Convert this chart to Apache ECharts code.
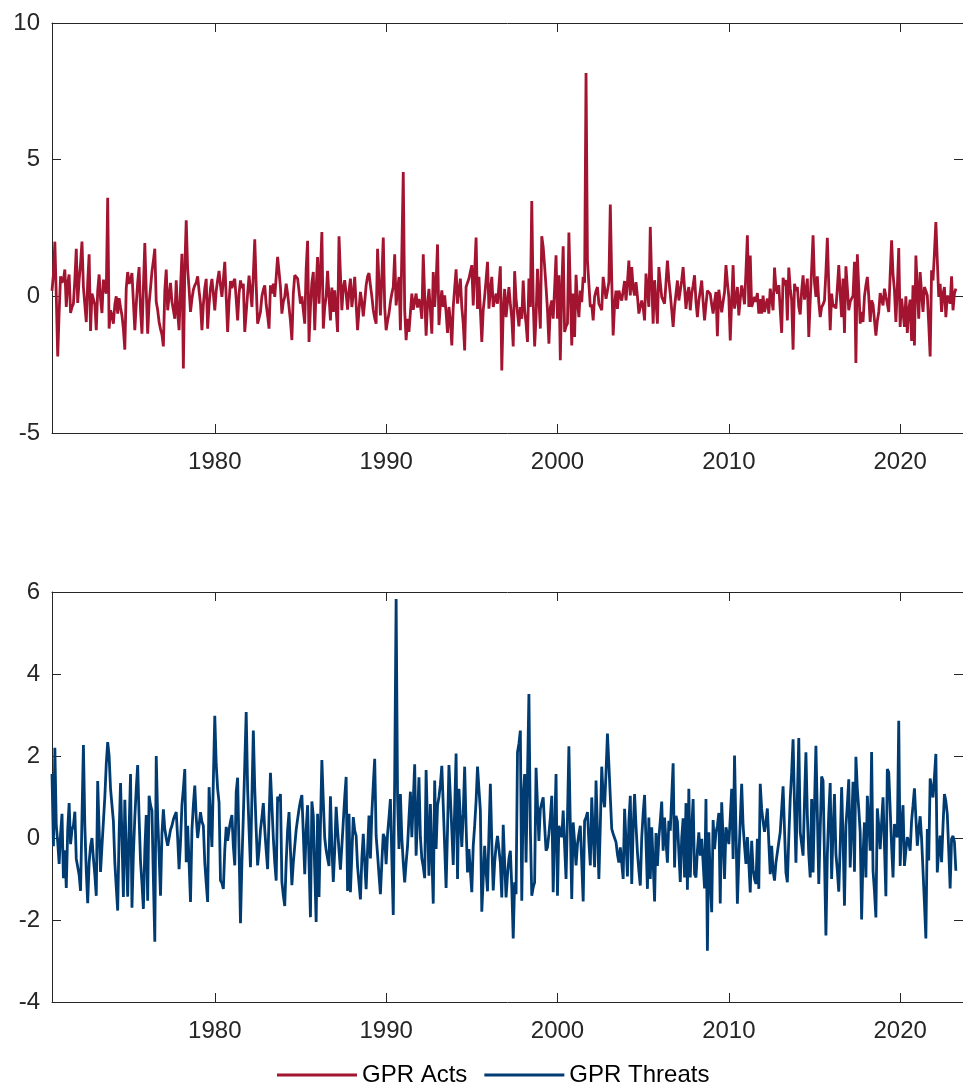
<!DOCTYPE html>
<html>
<head>
<meta charset="utf-8">
<title>GPR Acts / GPR Threats</title>
<script src="https://cdn.jsdelivr.net/npm/echarts@6/dist/echarts.min.js"></script>
<style>
  html, body { margin: 0; padding: 0; background: #fff; }
  #chart { width: 963px; height: 1088px; }
</style>
</head>
<body>
<div id="chart"></div>
<script>
// monthly values, one row per year (1970 starts in July, 2023 ends in April)
var gprActs = [
  0.2, 0.8, 2.0, 0.0, -2.2, -0.6,
  0.73, 0.5, 0.6, 0.98, -0.39, 0.5, 0.8, -0.61, -0.4, -0.27, 0.6, 1.74,
  -0.24, 0.6, 1.2, 2.0, 0.34, -0.3, -0.94, 0.5, 1.54, -1.27, 0.1, 0.1,
  -0.3, -1.24, 0.2, 0.8, -0.1, -0.61, 0.61, 0.3, 0.1, 3.61, -1.18, -0.51,
  -0.7, -1.0, -0.3, 0, -0.63, -0.07, -0.4, -0.7, -1.2, -1.95, 0.3, 0.89,
  0.46, 0.6, 0.85, -0.2, -1.24, -0.3, 0.5, 1.07, -0.5, -1.37, 0.3, 1.95,
  0.2, -1.37, -0.27, 0.3, 0.9, 1.3, 1.74, -0.2, -0.5, -0.94, -1.2, -1.4,
  -1.83, 0.2, 0.98, -0.51, 0, 0.49, -0.2, -0.5, -0.82, 0.59, -0.6, -1.24,
  0.3, 1.56, -2.64, 1.0, 2.78, 1.0, 0.27, -0.57, -0.1, 0.24, 0.4, 0.5,
  0.73, 0.2, -0.27, -1.24, -0.3, 0.3, 0.64, -1.18, -0.3, 0.3, 0.64, 0.1,
  -0.51, 0.2, 0.6, 0.93, 0.4, -0.02, 0.6, 1.26, 1.26, -1.3, -0.2, 0.56,
  0.3, 0.52, 0.64, -0.1, -0.88, 0.1, 0.58, 0.3, 0.46, -1.3, -0.61, 0.1,
  0.76, 0.2, -0.39, 0.8, 2.09, 0.4, -1.0, -0.8, -0.57, 0.0, 0.24, 0.4,
  -0.3, -0.7, -1.18, 0.4, 0.1, 0.46, -0.02, 0.7, 1.44, 0.9, 0.34, -0.63,
  -0.2, -0.02, 0.46, 0.1, -0.39, -0.9, -1.6, 0.1, 0.77, 0.7, 0.65, 0.2,
  -0.27, 0, -0.5, -1.0, 1.0, 2.03, -1.67, -0.4, 0.5, 0.89, -1.24, 0.3,
  1.44, -0.27, 0.9, 2.35, -1.18, -0.4, 0, 0.93, 0, -0.88, 0.32, -0.57,
  0.22, -0.5, -1.3, 2.2, 0.8, -0.51, 0.34, 0.59, 0.1, -0.49, 0.2, 0.65,
  -0.39, 0.1, 0.71, -0.3, -1.24, -0.5, 0.16, -0.2, -0.73, -0.2, 0.4, 0.73,
  0.85, 0.4, 0, -0.5, -0.8, -1.0, 1.74, 0.5, -0.7, 0.7, 2.15, -0.4,
  -1.24, -0.9, -0.63, -0.2, 0.1, 0.34, 1.54, -0.33, 0.2, 0.71, -1.24, 1.6,
  4.55, -0.5, -1.6, -0.82, -1.3, -0.6, 0.1, -0.49, -0.2, 0.1, -0.41, -0.1,
  -0.32, -0.82, 1.54, 0.0, -1.44, -0.27, 0.27, -0.5, -1.37, 0.89, -0.39, 0.5,
  1.9, -1.05, -0.3, 0.22, -0.39, 0.04, -0.6, -1.34, -0.39, -0.9, -1.8, -0.39,
  0.3, 0.99, -0.27, 0.2, 0.65, -0.39, -1.0, -1.98, 0.34, 0.5, 0.65, 0.9,
  1.14, -0.33, 0.9, 2.15, -0.46, 0.71, -0.5, -1.67, -0.5, 0, 0.6, 1.26,
  -0.45, 0.2, 0.71, -0.39, -0.39, 0.1, -0.27, 0.4, 1.1, -2.71, -0.5, 0.27,
  -0.76, -0.2, 0.34, -0.27, -0.8, -1.83, 0.92, -0.1, -0.6, -1.1, -0.39, -0.82,
  0.58, -0.5, -1.0, -1.67, 0.65, -0.39, 3.49, -0.2, -1.83, -0.76, 1.01, -0.1,
  -1.18, 2.2, 1.8, 1.1, 0.34, -0.5, -1.73, -0.4, -0.15, -0.82, 0.3, 1.5,
  -0.82, 0.77, -2.34, 0.3, 1.83, -1.3, -1.1, -0.99, 2.33, 0.2, -1.8, 0.1,
  -1.49, 0.79, -0.2, -0.76, 0.21, -0.21, 0.71, 0.5, 8.17, 1.3, 1.25, -0.39,
  -0.3, -0.88, -0.02, 0.2, 0.34, -0.27, -0.2, -0.51, 0.71, 0.3, -0.09, 0.2,
  0.52, 3.36, 0.6, -1.43, -0.3, 0.21, -0.46, 0.21, 0.0, -0.15, 0.2, 0.56,
  -0.15, 0.5, 1.31, 0.03, 1.07, 0.3, 0.03, 0.52, 0.0, -0.63, -0.57, -0.15,
  -0.4, -0.88, 0.83, 0.2, -0.39, 2.54, 0.5, -1.0, 0.59, -0.2, -1.0, 1.07,
  0.5, -0.02, -0.02, -0.27, 0.5, 1.31, 0.6, 0.09, -0.5, -1.12, -0.39, 0.1,
  0.58, -0.15, 0.2, 0.58, 1.07, 0.3, -0.46, 0.1, 0.34, -0.51, 0.09, 0.4,
  0.77, -0.2, -0.76, -0.15, 0.2, 0.58, -0.2, -0.88, -0.3, 0.21, 0.15, 0.09,
  -0.3, -0.63, -0.2, 0.16, -1.46, 0.24, -0.2, -0.58, -0.2, 0.16, 1.14, 0.5,
  -0.02, -1.61, -0.2, 1.14, -0.45, -0.1, 0.34, -0.7, -0.1, 0.4, 0.1, -0.29,
  0.9, 2.23, -0.39, 1.49, -0.39, -0.2, -0.02, -0.2, 0.12, -0.63, -0.1, -0.63,
  0.03, -0.57, -0.3, -0.08, -0.63, 0.28, -0.1, -0.51, 1.05, 0.3, 0.1, 0.41,
  -0.5, -1.34, 0.68, 0.4, 0.6, -0.88, 1.05, 0.3, -0.15, -1.95, 0.46, 0.2,
  0.34, -0.39, -0.66, 0.2, 0.77, -0.12, 0.2, 0.65, -1.49, -0.15, 1.0, 2.23,
  0.5, -0.02, 0.73, -0.2, -0.76, -0.39, -0.3, -0.15, 0.9, 2.14, 0.4, -1.24,
  0.1, -0.39, -0.3, -0.45, 0.3, 1.14, 0.1, -0.76, 0.65, -1.34, 1.1, 0.3,
  -0.51, -0.2, -0.08, 0.03, 1.26, -2.44, 1.54, 0.3, -1.0, -0.57, -0.94, 0.0,
  0.4, 0.71, 0.0, -0.94, -0.15, -0.3, -0.27, -1.44, -0.9, -0.57, 0.12, -0.1,
  -0.33, 0.28, 0.0, -0.27, -0.57, 0.8, 2.05, 0.8, 0.22, -0.94, 0.3, 1.77,
  -1.12, -0.08, -0.6, -1.12, 0.0, -1.34, -0.5, -0.12, -1.63, 0.4, -1.8, 1.49,
  0.3, -0.82, 0.89, 0.1, -0.57, 0.34, 0.2, 0.03, -1.0, -2.2, 0.95, 0.58,
  1.6, 2.72, 1.32, -0.02, 0.46, -0.57, 0.1, 0.34, -0.76, 0.03, -0.1, -0.27,
  0.73, -0.51, 0.1, 0.28
];

var gprThreats = [
  1.56, -0.2, 2.2, 0.3, -0.1, -0.63,
  0.1, 0.59, -0.98, -0.3, -1.22, 0.2, 0.85, -0.15, 0.2, 0.3, 0.64, -0.51,
  -0.7, -0.9, -1.29, 0.5, 2.27, 0.3, -0.8, -1.59, -0.6, -0.2, 0, -0.5,
  -0.9, -1.41, 1.39, 0.2, -0.83, -0.2, 0.4, 1.0, 1.8, 2.34, 2.0, 1.2,
  0.8, 0.41, -0.6, -1.2, -1.77, 0.1, 1.34, 0.0, -1.44, 0.93, -0.3, -1.43,
  0.2, 1.56, -1.7, -0.4, 0.5, 1.2, 1.78, 0.5, -0.58, -1.1, -1.73, -0.3,
  0.56, -1.53, 1.03, 0.8, 0.67, -1.0, -2.53, 2.0, 0.5, -0.4, -1.41, 0.1,
  0.7, 0.22, 0.0, -0.19, 0.0, 0.2, 0.3, 0.45, 0.55, 0.63, 0.0, -0.76,
  -0.1, 0.8, 1.2, 1.68, -0.59, 0.3, -0.6, -1.56, 0.2, 0.8, 1.28, 0.5,
  0, 0.3, 0.63, 0.4, 0.3, -0.6, -1.1, -1.56, 1.24, 0.5, -0.22, 1.4,
  2.98, 1.8, 1.2, 0.87, -1.04, -1.1, -1.24, -0.3, 0.27, -0.07, 0.2, 0.4,
  0.56, -0.2, -0.67, 1.12, 1.47, -0.3, -2.08, -0.6, 0.54, 1.8, 3.07, 1.2,
  0.2, -0.71, 1.0, 2.62, 1.2, 0.2, -0.67, -0.3, 0.2, 0.5, 0.85, 0.2,
  -0.3, -0.76, 0.5, 1.59, 0.8, 0.0, -0.6, -1.04, 1.01, 0.9, 1.07, -1.07,
  -1.4, -1.66, -0.6, 0.2, 0.63, -0.3, -1.15, -0.6, -0.2, 0.2, 0.46, 0.7,
  0.9, 1.05, 0.1, -0.88, 0.2, 0.8, -0.6, -1.93, 0.89, 0.54, -0.8, -2.05,
  0.59, -1.44, 0.3, 1.9, 0.9, 0, -0.3, -0.5, -0.68, 1.02, -0.2, -1.07,
  -0.3, 0.76, 0.2, -0.3, -0.77, -0.2, 0.4, 1.0, 1.49, -1.29, 0.59, -1.32,
  -0.4, 0.51, 0.18, 0.05, -0.7, -1.1, -1.5, -0.5, 0.1, -0.6, -1.25, -0.3,
  0.55, -0.5, 0.6, 1.3, 1.93, 0.05, -0.4, -0.9, -1.37, -0.6, 0.1, 0.0,
  -0.64, 0.1, 0.5, 0.95, -0.5, -1.88, 1.5, 5.83, 1.0, -0.27, 1.07, 0.0,
  -0.6, -1.08, -0.6, -0.2, 0.5, 1.13, 0.02, 0.9, 1.8, -0.43, 0.5, 1.48,
  0.02, -0.5, -0.7, -0.98, 1.66, 0.3, -0.92, 0.83, -0.4, -1.6, 1.4, -0.27,
  0.79, 1.0, 1.3, 1.76, 0.8, -0.2, -1.22, 0.2, 1.78, 1.0, 0.2, -0.66,
  0.7, 2.06, -1.0, 1.2, 0.46, -0.22, 0.6, 1.74, 0.3, -0.84, -0.27, -0.8,
  -1.32, -0.19, 0.3, 0.9, 1.74, 1.2, 0.67, -1.8, -1.0, -0.19, -0.8, -1.3,
  0.1, 1.32, -0.1, -1.28, -0.6, -0.2, 0.05, 0.02, -0.6, -1.45, 0.32, -0.6,
  -1.45, -0.9, -0.5, -0.31, -1.2, -2.45, -1.08, -1.37, 2.09, 2.3, 2.62, -1.53,
  1.0, 1.56, -0.6, 1.5, 3.51, 0.22, -1.41, -1.2, -1.08, 1.71, 0.8, -0.07,
  0.71, 0.85, 0.99, 0.3, -0.31, -0.23, 0.1, 0.5, 1.03, -1.32, 0.2, 1.56,
  -1.41, 0.3, 0.15, 0.02, 0.67, -0.2, -1.0, 0.5, 2.24, 0.3, -1.49, 0.38,
  -0.1, -0.67, -0.15, 0.1, 0.3, -0.6, -1.55, 0.42, 0.5, 0.63, -0.1, -0.67,
  0.99, 0.1, -0.71, 1.4, 0.2, -1.0, 0.3, 1.74, 1.0, 0.75, 1.6, 2.55,
  1.8, 1.0, 0.22, 0.1, 0.0, -0.1, -0.4, -0.6, -0.23, -0.6, -1.0, 0.71,
  -0.1, -0.94, 0.4, 1.03, -1.12, 0.2, 1.07, 0.3, -0.35, -0.8, -1.16, 0.0,
  0.6, 1.05, -0.1, -1.24, 0.5, -1.0, 0.26, -0.6, -1.55, 0.12, -0.68, 0.0,
  0.42, 0.89, -0.31, 0.5, -0.1, -0.6, 0.42, 0.18, 1.0, 1.82, -0.72, 0.54,
  0.4, 0.4, -1.07, 0.0, 0.48, -0.96, 0.85, -1.26, 1.2, -0.96, 0.2, 0.95,
  -0.88, -0.96, -0.3, 0.14, -0.43, -0.02, -0.6, -1.23, 0.95, -2.75, 0.14, -1.0,
  -1.81, 0.44, -0.27, 0.14, 0.3, 0.61, -1.6, 0.87, 0.0, -1.0, 0.26, 0.1,
  -0.15, 0.5, 1.2, -0.51, 2.01, 0.2, -1.6, -0.51, 0.4, 1.32, 0.3, -0.2,
  -0.63, 0.02, -0.6, -1.33, -0.07, -0.76, -1.0, -1.12, -0.02, -1.24, 1.32, 0.71,
  0.4, 0.15, 0.4, 0.72, -0.1, -0.88, -0.19, -0.8, -1.04, -0.6, -0.35, -0.1,
  0.14, 0.7, 1.26, 0.2, -0.84, -1.08, 0.0, 0.95, 1.6, 2.41, 0.8, -0.6,
  1.0, 2.44, 0.14, 0.1, -0.43, 0.9, 2.09, 0.54, -0.4, -0.96, 0.95, -0.84,
  0.8, 2.25, 0.58, -1.12, 0.2, 1.5, 1.4, 1.36, -2.38, -0.4, 0.6, 1.34,
  -1.0, 0.2, 1.07, -0.39, -0.8, -1.31, -0.19, 1.24, 0.0, -1.65, 0.3, 0.8,
  1.43, -0.72, 0.3, 1.37, -0.82, 1.98, 1.2, 0.71, 0.14, -1.99, -0.4, 0.38,
  -0.96, 1.03, 0.4, -0.31, 2.1, -0.8, -1.3, -1.94, 0.72, 0.3, -0.27, 0.38,
  0.99, -0.2, -1.42, 1.68, 1.6, 1.64, -0.2, -0.96, 0.34, 0.1, 0.02, 2.86,
  -0.68, 0.3, 0.8, -0.68, -0.3, 0.02, -0.1, -0.31, 0.42, 0.8, 1.21, 0.5,
  -0.19, 0.2, 0.53, -0.02, -0.8, -1.6, -2.45, 0.22, -0.55, 1.45, 1.2, 0.99,
  1.5, 2.05, -0.84, -0.3, 0.06, -0.59, 0.3, 1.07, 0.9, 0.58, -0.3, -1.23,
  -0.02, 0.05, -0.1, -0.8
];

// axis runs a few months past the last observation (right edge is cut off)
var axisStart = [1970, 7];
var axisEnd = [2023, 9];
var yearTicks = [1980, 1990, 2000, 2010, 2020];

var seriesNames = ['GPR Acts', 'GPR Threats'];
var seriesColors = ['#A2142F', '#003C72'];

function buildMonths(start, end) {
    var out = [];
    var y = start[0], m = start[1];
    while (y < end[0] || (y === end[0] && m <= end[1])) {
        out.push(y + '-' + (m < 10 ? '0' + m : m));
        m++;
        if (m > 12) { m = 1; y++; }
    }
    return out;
}
var months = buildMonths(axisStart, axisEnd);

function isYearTick(index, value) {
    return value.slice(5) === '01' && yearTicks.indexOf(+value.slice(0, 4)) > -1;
}

var axisColor = '#262626';
var fontFamily = '"Liberation Sans", Arial, Helvetica, sans-serif';

var grids = [
    { left: 52, right: -7, top: 23, height: 410 },
    { left: 52, right: -7, top: 592, height: 410 }
];
var yRanges = [
    { min: -5, max: 10, interval: 5 },
    { min: -4, max: 6, interval: 2 }
];

function xAxisFor(gridIndex, onTop) {
    return {
        type: 'category',
        gridIndex: gridIndex,
        position: onTop ? 'top' : 'bottom',
        data: months,
        boundaryGap: false,
        axisLine: { show: true, onZero: false, lineStyle: { color: axisColor, width: 1 } },
        axisTick: { show: true, inside: true, length: 9, interval: isYearTick,
            lineStyle: { color: axisColor, width: 1 } },
        axisLabel: {
            show: !onTop,
            interval: isYearTick,
            formatter: function (v) { return v.slice(0, 4); },
            color: axisColor,
            fontSize: 24,
            fontFamily: fontFamily,
            margin: 17
        },
        splitLine: { show: false }
    };
}

function yAxisFor(gridIndex, onRight) {
    var r = yRanges[gridIndex];
    return {
        type: 'value',
        gridIndex: gridIndex,
        position: onRight ? 'right' : 'left',
        min: r.min,
        max: r.max,
        interval: r.interval,
        axisLine: { show: true, lineStyle: { color: axisColor, width: 1 } },
        axisTick: { show: true, inside: true, length: 9, lineStyle: { color: axisColor, width: 1 } },
        axisLabel: {
            show: !onRight,
            color: axisColor,
            fontSize: 24,
            fontFamily: fontFamily,
            margin: 12
        },
        splitLine: { show: false }
    };
}

var option = {
    animation: false,
    backgroundColor: '#fff',
    grid: grids,
    xAxis: [xAxisFor(0, false), xAxisFor(1, false), xAxisFor(0, true), xAxisFor(1, true)],
    yAxis: [yAxisFor(0, false), yAxisFor(1, false), yAxisFor(0, true), yAxisFor(1, true)],
    legend: {
        data: seriesNames,
        icon: 'rect',
        left: 272,
        top: 1058,
        itemWidth: 80,
        itemHeight: 3,
        itemGap: 17,
        textStyle: { color: '#000', fontSize: 24, fontFamily: fontFamily }
    },
    series: [
        {
            name: seriesNames[0],
            type: 'line',
            xAxisIndex: 0,
            yAxisIndex: 0,
            data: gprActs,
            symbol: 'none',
            color: seriesColors[0],
            lineStyle: { color: seriesColors[0], width: 2.8 }
        },
        {
            name: seriesNames[1],
            type: 'line',
            xAxisIndex: 1,
            yAxisIndex: 1,
            data: gprThreats,
            symbol: 'none',
            color: seriesColors[1],
            lineStyle: { color: seriesColors[1], width: 2.8 }
        }
    ]
};

var myChart = echarts.init(document.getElementById('chart'));
myChart.setOption(option);
</script>
</body>
</html>
